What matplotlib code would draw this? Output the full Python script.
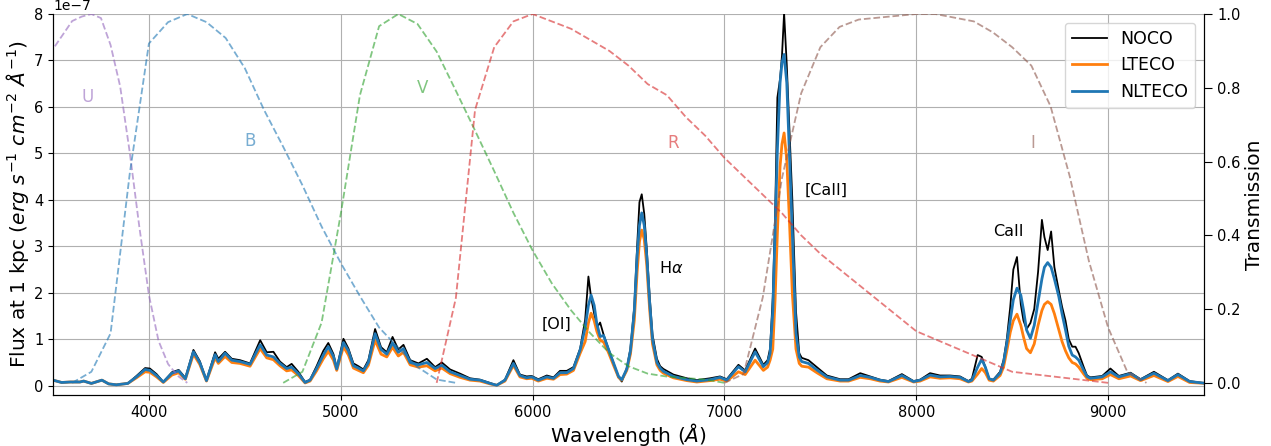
import numpy as np
import matplotlib
matplotlib.use('Agg')
from matplotlib import pyplot as plt

# wavelength grid (Angstrom), fluxes in units of 1e-7 erg/s/cm2/A
wave = [3500, 3545, 3590, 3640, 3660, 3700, 3755, 3790, 3830, 3890,
        3935, 3980, 4005, 4040, 4075, 4120, 4155, 4190, 4232, 4265,
        4300, 4345, 4362, 4397, 4432, 4475, 4527, 4580, 4614, 4649,
        4683, 4718, 4744, 4779, 4814, 4840, 4874, 4909, 4935, 4962,
        4979, 5014, 5040, 5066, 5092, 5118, 5144, 5179, 5210, 5240,
        5270, 5300, 5327, 5362, 5405, 5449, 5492, 5527, 5570, 5622,
        5674, 5726, 5778, 5813, 5856, 5900, 5934, 5969, 5995, 6030,
        6074, 6109, 6143, 6178,
        6213, 6248, 6274, 6291, 6305, 6321, 6335, 6352, 6370, 6395, 6421, 6448, 6465,
        6491, 6510, 6530, 6545, 6557, 6569, 6582, 6595, 6610, 6625, 6648, 6665, 6682,
        6734, 6804, 6856, 6925, 6977, 7012, 7073, 7108, 7160,
        7203, 7225, 7238, 7252, 7264, 7276, 7290, 7300, 7311, 7325, 7338, 7354, 7373, 7390, 7403, 7438,
        7482, 7534, 7603, 7647, 7708, 7760, 7811, 7855, 7925, 7986,
        8020, 8072, 8124, 8176, 8228, 8272, 8290, 8320, 8341, 8360, 8380, 8402,
        8437, 8455, 8472, 8490, 8506, 8525, 8545, 8559, 8575, 8595, 8615, 8635, 8655, 8668,
        8685, 8703, 8720, 8743, 8760, 8778, 8795, 8813, 8830, 8847, 8873, 8890, 8908,
        8969, 9012, 9056, 9117, 9169, 9239, 9312, 9364, 9425, 9512]

flux_nlteco = [0.12, 0.07, 0.08, 0.08, 0.10, 0.05, 0.12, 0.04, 0.02, 0.05,
               0.19, 0.35, 0.33, 0.22, 0.08, 0.27, 0.32, 0.15, 0.73, 0.50,
               0.11, 0.67, 0.52, 0.70, 0.55, 0.52, 0.46, 0.88, 0.66, 0.62,
               0.48, 0.37, 0.40, 0.26, 0.07, 0.12, 0.37, 0.66, 0.84, 0.63,
               0.36, 0.93, 0.75, 0.43, 0.38, 0.32, 0.50, 1.12, 0.78, 0.68,
               0.92, 0.72, 0.80, 0.50, 0.45, 0.50, 0.37, 0.44, 0.30, 0.22,
               0.14, 0.12, 0.05, 0.01, 0.12, 0.48, 0.22, 0.17, 0.19, 0.12,
               0.19, 0.16, 0.28, 0.28,
               0.37, 0.77, 1.25, 1.73, 1.95, 1.73, 1.33, 1.06, 1.08, 0.79, 0.50, 0.20, 0.13,
               0.36, 0.75, 1.60, 2.80, 3.45, 3.72, 3.45, 2.80, 1.80, 1.00, 0.50, 0.38, 0.31,
               0.20, 0.13, 0.10, 0.13, 0.18, 0.12, 0.41, 0.30, 0.73,
               0.41, 0.50, 0.70, 1.60, 3.28, 5.08, 6.52, 6.95, 7.13, 6.52, 5.08, 3.28, 1.13, 0.62, 0.52, 0.48,
               0.34, 0.19, 0.12, 0.12, 0.22, 0.18, 0.12, 0.09, 0.22, 0.09,
               0.12, 0.23, 0.19, 0.20, 0.18, 0.09, 0.12, 0.40, 0.57, 0.40, 0.15, 0.12,
               0.27, 0.50, 0.91, 1.40, 1.85, 2.10, 1.95, 1.63, 1.20, 1.02, 1.30, 1.80, 2.30, 2.55,
               2.65, 2.55, 2.30, 1.92, 1.55, 1.20, 0.85, 0.66, 0.62, 0.55, 0.33, 0.20, 0.16,
               0.19, 0.30, 0.19, 0.26, 0.13, 0.27, 0.11, 0.24, 0.09, 0.05]

flux_noco = [0.12, 0.07, 0.08, 0.08, 0.10, 0.05, 0.12, 0.04, 0.02, 0.05,
             0.21, 0.38, 0.37, 0.25, 0.08, 0.29, 0.34, 0.17, 0.77, 0.53,
             0.12, 0.72, 0.58, 0.73, 0.58, 0.55, 0.48, 0.98, 0.72, 0.73,
             0.52, 0.40, 0.47, 0.30, 0.08, 0.13, 0.42, 0.75, 0.92, 0.68,
             0.38, 1.01, 0.80, 0.48, 0.42, 0.35, 0.55, 1.22, 0.83, 0.72,
             1.05, 0.78, 0.88, 0.55, 0.48, 0.58, 0.40, 0.50, 0.35, 0.26,
             0.16, 0.13, 0.06, 0.01, 0.13, 0.55, 0.24, 0.20, 0.21, 0.14,
             0.22, 0.18, 0.32, 0.32,
             0.40, 0.80, 1.42, 2.35, 1.90, 1.56, 1.25, 1.36, 1.10, 0.80, 0.50, 0.18, 0.09,
             0.38, 0.80, 1.70, 3.00, 3.95, 4.12, 3.70, 2.95, 1.95, 1.10, 0.58, 0.42, 0.36,
             0.24, 0.16, 0.12, 0.16, 0.20, 0.14, 0.45, 0.33, 0.80,
             0.45, 0.55, 0.80, 1.90, 3.60, 6.20, 6.60, 7.10, 8.02, 6.90, 5.60, 4.00, 1.60, 0.70, 0.60, 0.55,
             0.40, 0.22, 0.14, 0.14, 0.27, 0.20, 0.13, 0.10, 0.25, 0.10,
             0.13, 0.27, 0.22, 0.22, 0.20, 0.10, 0.15, 0.66, 0.62, 0.40, 0.15, 0.13,
             0.30, 0.55, 1.00, 1.70, 2.50, 2.77, 1.75, 1.40, 1.22, 1.35, 1.65, 2.45, 3.57, 3.20,
             2.92, 3.32, 2.55, 2.05, 1.70, 1.40, 1.00, 0.84, 0.84, 0.70, 0.40, 0.22, 0.18,
             0.21, 0.37, 0.21, 0.28, 0.14, 0.30, 0.12, 0.26, 0.10, 0.05]

flux_lteco = [0.12, 0.07, 0.08, 0.08, 0.10, 0.05, 0.12, 0.04, 0.02, 0.05,
              0.17, 0.30, 0.29, 0.19, 0.07, 0.23, 0.28, 0.14, 0.68, 0.46,
              0.10, 0.60, 0.48, 0.63, 0.50, 0.48, 0.42, 0.80, 0.60, 0.56,
              0.43, 0.32, 0.34, 0.22, 0.06, 0.10, 0.32, 0.58, 0.74, 0.55,
              0.33, 0.84, 0.66, 0.38, 0.33, 0.28, 0.44, 0.98, 0.68, 0.62,
              0.83, 0.64, 0.72, 0.45, 0.40, 0.43, 0.32, 0.38, 0.26, 0.18,
              0.12, 0.10, 0.04, 0.01, 0.10, 0.44, 0.19, 0.15, 0.16, 0.10,
              0.16, 0.14, 0.24, 0.25,
              0.33, 0.70, 0.95, 1.35, 1.56, 1.40, 1.17, 0.98, 0.94, 0.72, 0.45, 0.18, 0.12,
              0.33, 0.68, 1.40, 2.45, 3.10, 3.35, 3.15, 2.60, 1.65, 0.90, 0.45, 0.33, 0.27,
              0.17, 0.11, 0.08, 0.11, 0.14, 0.10, 0.30, 0.24, 0.55,
              0.33, 0.40, 0.55, 0.79, 1.85, 3.28, 4.72, 5.20, 5.44, 4.86, 3.64, 1.99, 0.79, 0.48, 0.42, 0.40,
              0.28, 0.15, 0.10, 0.10, 0.18, 0.15, 0.10, 0.08, 0.18, 0.08,
              0.10, 0.19, 0.16, 0.17, 0.15, 0.08, 0.10, 0.25, 0.37, 0.28, 0.12, 0.10,
              0.22, 0.40, 0.75, 1.15, 1.40, 1.54, 1.30, 1.05, 0.80, 0.71, 0.90, 1.30, 1.62, 1.75,
              1.81, 1.75, 1.55, 1.20, 0.95, 0.75, 0.60, 0.50, 0.47, 0.40, 0.25, 0.16, 0.13,
              0.15, 0.24, 0.15, 0.21, 0.11, 0.22, 0.09, 0.20, 0.07, 0.05]

# Bessell UBVRI transmission curves
u_wave = [3000, 3050, 3100, 3150, 3200, 3250, 3300, 3350, 3400, 3450, 3500, 3550,
          3600, 3650, 3700, 3750, 3800, 3850, 3900, 3950, 4000, 4050, 4100, 4150, 4200]
u_trans = [0.0, 0.016, 0.068, 0.167, 0.287, 0.423, 0.560, 0.673, 0.772, 0.841, 0.905, 0.943,
           0.981, 0.993, 1.000, 0.989, 0.916, 0.804, 0.625, 0.423, 0.238, 0.114, 0.051, 0.019, 0.0]
b_wave = [3600, 3700, 3800, 3900, 4000, 4100, 4200, 4300, 4400, 4500, 4600,
          4700, 4800, 4900, 5000, 5100, 5200, 5300, 5400, 5500, 5600]
b_trans = [0.0, 0.030, 0.134, 0.567, 0.920, 0.978, 1.000, 0.978, 0.935, 0.853, 0.740,
           0.640, 0.536, 0.424, 0.325, 0.235, 0.150, 0.095, 0.043, 0.009, 0.0]
v_wave = [4700, 4800, 4900, 5000, 5100, 5200, 5300, 5400, 5500, 5600, 5700, 5800,
          5900, 6000, 6100, 6200, 6300, 6400, 6500, 6600, 6700, 6800, 6900, 7000]
v_trans = [0.0, 0.030, 0.163, 0.458, 0.780, 0.967, 1.000, 0.973, 0.898, 0.792, 0.684, 0.574,
           0.461, 0.359, 0.270, 0.197, 0.135, 0.081, 0.045, 0.025, 0.017, 0.013, 0.009, 0.0]
r_wave = [5500, 5600, 5700, 5800, 5900, 6000, 6100, 6200, 6300, 6400, 6500, 6600,
          6700, 6800, 6900, 7000, 7100, 7200, 7300, 7400, 7500, 8000, 8500, 9000]
r_trans = [0.0, 0.23, 0.74, 0.91, 0.98, 1.0, 0.98, 0.96, 0.93, 0.90, 0.86, 0.81,
           0.78, 0.72, 0.67, 0.61, 0.56, 0.51, 0.46, 0.40, 0.35, 0.14, 0.03, 0.0]
i_wave = [7000, 7100, 7200, 7300, 7400, 7500, 7600, 7700, 7800, 7900, 8000, 8100,
          8200, 8300, 8400, 8500, 8600, 8700, 8800, 8900, 9000, 9100, 9200]
i_trans = [0.0, 0.024, 0.232, 0.555, 0.785, 0.910, 0.965, 0.985, 0.990, 0.995, 1.000, 1.000,
           0.990, 0.980, 0.950, 0.910, 0.860, 0.750, 0.560, 0.330, 0.150, 0.030, 0.0]

filters = ['U', 'B', 'V', 'R', 'I']
filter_colors = ['tab:purple', 'tab:blue', 'tab:green', 'tab:red', 'tab:brown']
filter_label_pos = [(3682, 0.775), (4527, 0.655), (5429, 0.80), (6732, 0.65), (8610, 0.65)]

lines = [('[OI]', 6127, 1.33), (r'H$\alpha$', 6722, 2.53),
         ('[CaII]', 7530, 4.21), ('CaII', 8478, 3.31)]

fig = plt.figure(figsize=(12.71, 4.46), dpi=100)
ax = fig.add_axes([0.0417, 0.1143, 0.9056, 0.8543])

scale = 1e-7
ax.plot(wave, np.array(flux_noco) * scale, color='black', lw=1.3, label='NOCO')
ax.plot(wave, np.array(flux_lteco) * scale, color='tab:orange', lw=2, label='LTECO')
ax.plot(wave, np.array(flux_nlteco) * scale, color='tab:blue', lw=2, label='NLTECO')

for name, lx, ly in lines:
    ax.text(lx, ly * scale, name, fontsize=11.5, ha='center', va='center')

ax.set_xlim(3500, 9500)
ax.set_ylim(-0.2e-7, 8e-7)
ax.grid(True)
ax.set_xlabel(r'Wavelength ($\AA$)', fontsize=14.5, labelpad=1)
ax.set_ylabel(r'Flux at 1 kpc ($erg\ s^{-1}\ cm^{-2}\ \AA^{-1}$)', fontsize=14.5, labelpad=2)
ax.tick_params(labelsize=10.5)
ax.spines['top'].set_visible(False)
ax.legend(loc='upper right', fontsize=12.5)

ax2 = ax.twinx()
fw = [u_wave, b_wave, v_wave, r_wave, i_wave]
ft = [u_trans, b_trans, v_trans, r_trans, i_trans]
for name, c, w, t, pos in zip(filters, filter_colors, fw, ft, filter_label_pos):
    ax2.plot(w, t, '--', color=c, alpha=0.6, lw=1.3)
    ax2.text(pos[0], pos[1], name, color=c, alpha=0.6, fontsize=12, ha='center', va='center')
ax2.set_ylim(-0.033, 1.0)
ax2.set_xlim(3500, 9500)
ax2.set_ylabel('Transmission', fontsize=14.5, labelpad=3)
ax2.tick_params(labelsize=10.5, length=6)
ax2.spines['top'].set_visible(False)

plt.savefig('out.png', dpi=100)
